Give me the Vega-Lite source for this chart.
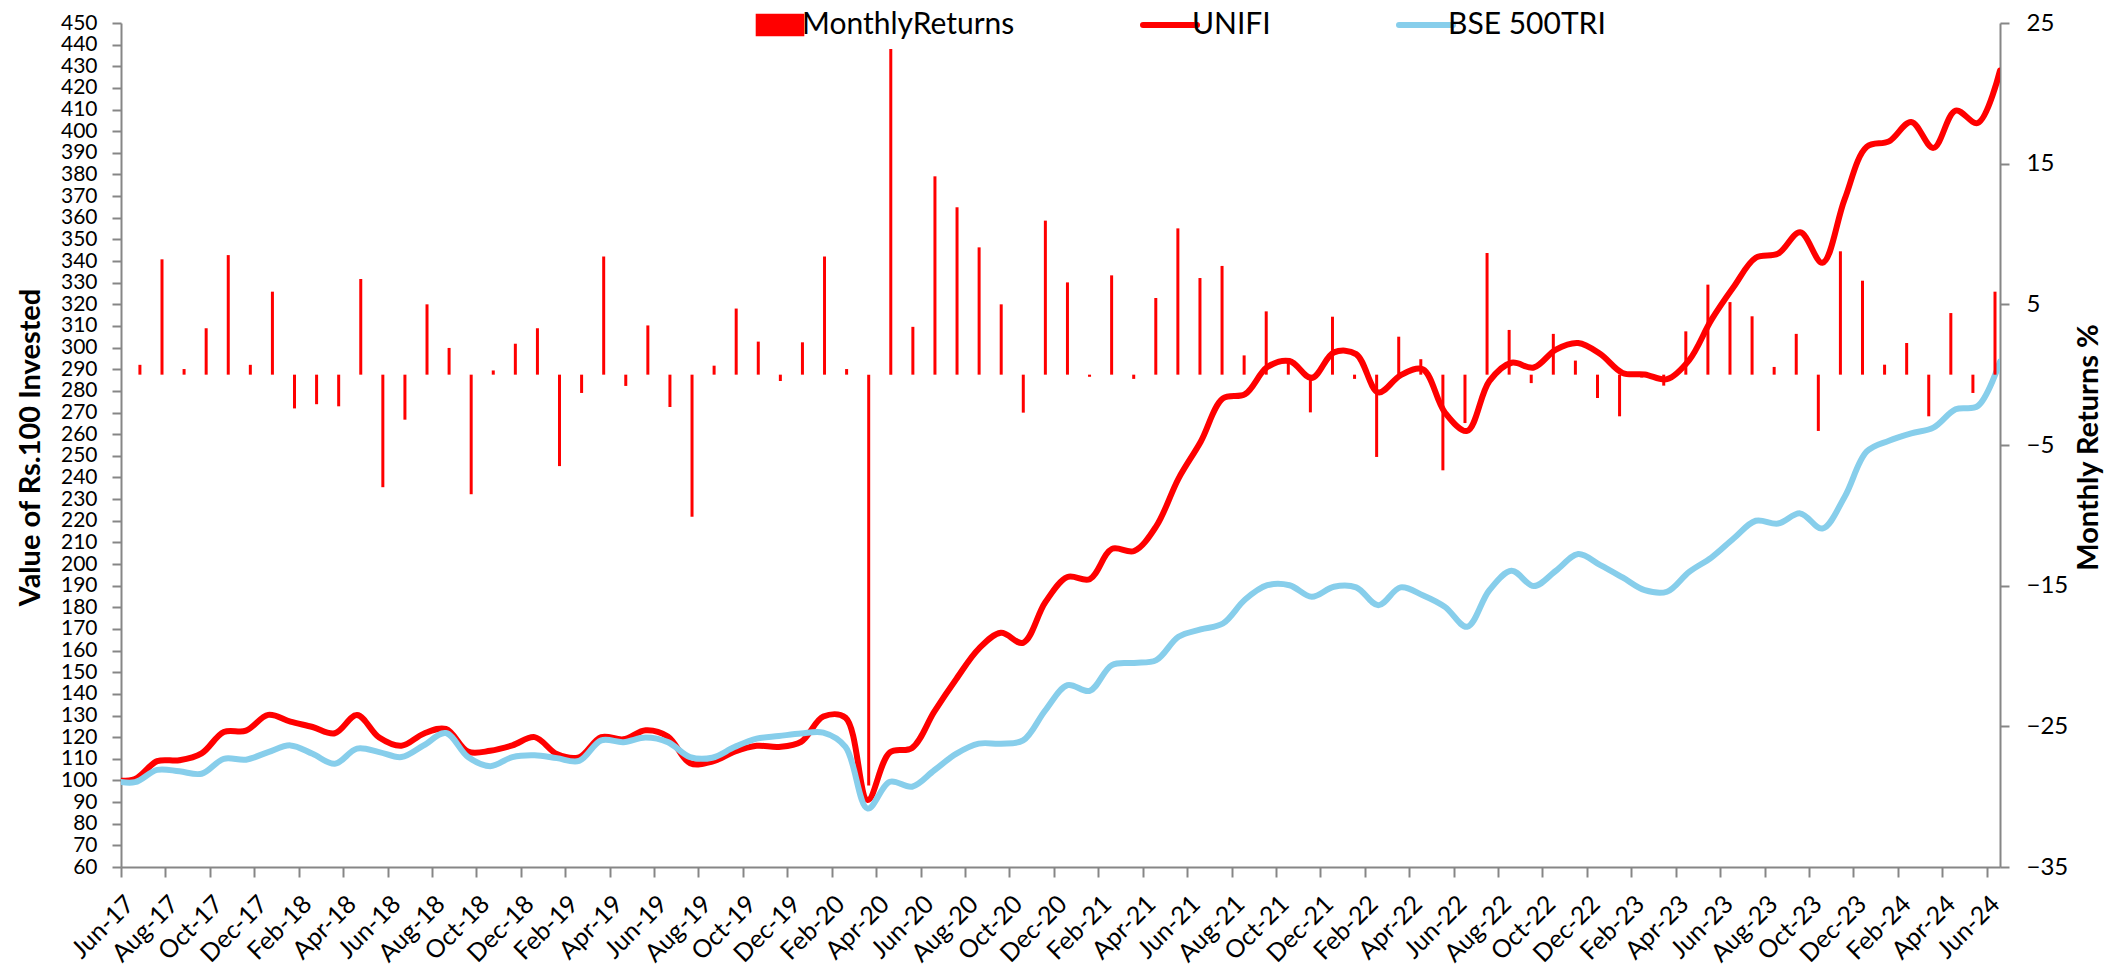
{
  "$schema": "https://vega.github.io/schema/vega-lite/v6.json",
  "width": 1879,
  "height": 844,
  "autosize": {"type": "none"},
  "padding": {"left": 121, "top": 23, "right": 110, "bottom": 106},
  "background": "white",
  "data": {"values": [
    {"month": "May-17", "i": -1, "ret": null, "UNIFI": 100, "BSE 500TRI": 100},
    {"month": "Jun-17", "i": 0, "ret": 0.7, "UNIFI": 100.7, "BSE 500TRI": 99.2},
    {"month": "Jul-17", "i": 1, "ret": 8.2, "UNIFI": 108.9, "BSE 500TRI": 104.9},
    {"month": "Aug-17", "i": 2, "ret": 0.4, "UNIFI": 109.3, "BSE 500TRI": 104.2},
    {"month": "Sep-17", "i": 3, "ret": 3.3, "UNIFI": 112.5, "BSE 500TRI": 103.1},
    {"month": "Oct-17", "i": 4, "ret": 8.5, "UNIFI": 122.4, "BSE 500TRI": 110},
    {"month": "Nov-17", "i": 5, "ret": 0.7, "UNIFI": 123, "BSE 500TRI": 109.6},
    {"month": "Dec-17", "i": 6, "ret": 5.9, "UNIFI": 130.3, "BSE 500TRI": 113.1},
    {"month": "Jan-18", "i": 7, "ret": -2.4, "UNIFI": 127.2, "BSE 500TRI": 116.2},
    {"month": "Feb-18", "i": 8, "ret": -2.1, "UNIFI": 124.7, "BSE 500TRI": 112.3},
    {"month": "Mar-18", "i": 9, "ret": -2.25, "UNIFI": 121.8, "BSE 500TRI": 107.7},
    {"month": "Apr-18", "i": 10, "ret": 6.8, "UNIFI": 130.2, "BSE 500TRI": 114.7},
    {"month": "May-18", "i": 11, "ret": -8.0, "UNIFI": 119.8, "BSE 500TRI": 113.1},
    {"month": "Jun-18", "i": 12, "ret": -3.2, "UNIFI": 116, "BSE 500TRI": 110.8},
    {"month": "Jul-18", "i": 13, "ret": 5.0, "UNIFI": 121.6, "BSE 500TRI": 116.2},
    {"month": "Aug-18", "i": 14, "ret": 1.9, "UNIFI": 123.8, "BSE 500TRI": 121.9},
    {"month": "Sep-18", "i": 15, "ret": -8.5, "UNIFI": 113.3, "BSE 500TRI": 110.8},
    {"month": "Oct-18", "i": 16, "ret": 0.3, "UNIFI": 113.7, "BSE 500TRI": 106.6},
    {"month": "Nov-18", "i": 17, "ret": 2.2, "UNIFI": 116.2, "BSE 500TRI": 110.8},
    {"month": "Dec-18", "i": 18, "ret": 3.3, "UNIFI": 120, "BSE 500TRI": 111.6},
    {"month": "Jan-19", "i": 19, "ret": -6.5, "UNIFI": 112.2, "BSE 500TRI": 110.3},
    {"month": "Feb-19", "i": 20, "ret": -1.3, "UNIFI": 110.7, "BSE 500TRI": 109},
    {"month": "Mar-19", "i": 21, "ret": 8.4, "UNIFI": 120, "BSE 500TRI": 118.5},
    {"month": "Apr-19", "i": 22, "ret": -0.8, "UNIFI": 119, "BSE 500TRI": 117.7},
    {"month": "May-19", "i": 23, "ret": 3.5, "UNIFI": 123.2, "BSE 500TRI": 119.8},
    {"month": "Jun-19", "i": 24, "ret": -2.3, "UNIFI": 120.3, "BSE 500TRI": 117.7},
    {"month": "Jul-19", "i": 25, "ret": -10.1, "UNIFI": 108, "BSE 500TRI": 110.8},
    {"month": "Aug-19", "i": 26, "ret": 0.64, "UNIFI": 108.7, "BSE 500TRI": 110.5},
    {"month": "Sep-19", "i": 27, "ret": 4.7, "UNIFI": 113.3, "BSE 500TRI": 115.4},
    {"month": "Oct-19", "i": 28, "ret": 2.35, "UNIFI": 116, "BSE 500TRI": 119.3},
    {"month": "Nov-19", "i": 29, "ret": -0.45, "UNIFI": 115.5, "BSE 500TRI": 120.5},
    {"month": "Dec-19", "i": 30, "ret": 2.3, "UNIFI": 117.8, "BSE 500TRI": 121.7},
    {"month": "Jan-20", "i": 31, "ret": 8.4, "UNIFI": 129.5, "BSE 500TRI": 122.1},
    {"month": "Feb-20", "i": 32, "ret": 0.4, "UNIFI": 129, "BSE 500TRI": 115.5},
    {"month": "Mar-20", "i": 33, "ret": -29.2, "UNIFI": 91, "BSE 500TRI": 87},
    {"month": "Apr-20", "i": 34, "ret": 23.15, "UNIFI": 113, "BSE 500TRI": 99.4},
    {"month": "May-20", "i": 35, "ret": 3.4, "UNIFI": 115, "BSE 500TRI": 97.1},
    {"month": "Jun-20", "i": 36, "ret": 14.1, "UNIFI": 131.8, "BSE 500TRI": 104.7},
    {"month": "Jul-20", "i": 37, "ret": 11.9, "UNIFI": 147, "BSE 500TRI": 112.4},
    {"month": "Aug-20", "i": 38, "ret": 9.05, "UNIFI": 160.8, "BSE 500TRI": 117},
    {"month": "Sep-20", "i": 39, "ret": 5.0, "UNIFI": 168.2, "BSE 500TRI": 117},
    {"month": "Oct-20", "i": 40, "ret": -2.7, "UNIFI": 163.6, "BSE 500TRI": 118.5},
    {"month": "Nov-20", "i": 41, "ret": 10.95, "UNIFI": 182.3, "BSE 500TRI": 132.4},
    {"month": "Dec-20", "i": 42, "ret": 6.56, "UNIFI": 194, "BSE 500TRI": 144},
    {"month": "Jan-21", "i": 43, "ret": -0.15, "UNIFI": 193, "BSE 500TRI": 141.4},
    {"month": "Feb-21", "i": 44, "ret": 7.06, "UNIFI": 207, "BSE 500TRI": 153.3},
    {"month": "Mar-21", "i": 45, "ret": -0.3, "UNIFI": 206, "BSE 500TRI": 154.3},
    {"month": "Apr-21", "i": 46, "ret": 5.45, "UNIFI": 217.5, "BSE 500TRI": 155.6},
    {"month": "May-21", "i": 47, "ret": 10.4, "UNIFI": 239.5, "BSE 500TRI": 166.4},
    {"month": "Jun-21", "i": 48, "ret": 6.87, "UNIFI": 256.5, "BSE 500TRI": 169.8},
    {"month": "Jul-21", "i": 49, "ret": 7.73, "UNIFI": 276.5, "BSE 500TRI": 172.5},
    {"month": "Aug-21", "i": 50, "ret": 1.37, "UNIFI": 278.5, "BSE 500TRI": 183.6},
    {"month": "Sep-21", "i": 51, "ret": 4.5, "UNIFI": 291, "BSE 500TRI": 190.2},
    {"month": "Oct-21", "i": 52, "ret": 0.83, "UNIFI": 293.8, "BSE 500TRI": 190.2},
    {"month": "Nov-21", "i": 53, "ret": -2.68, "UNIFI": 286, "BSE 500TRI": 184.9},
    {"month": "Dec-21", "i": 54, "ret": 4.12, "UNIFI": 297.8, "BSE 500TRI": 189.5},
    {"month": "Jan-22", "i": 55, "ret": -0.3, "UNIFI": 297, "BSE 500TRI": 189.2},
    {"month": "Feb-22", "i": 56, "ret": -5.85, "UNIFI": 279.3, "BSE 500TRI": 181},
    {"month": "Mar-22", "i": 57, "ret": 2.7, "UNIFI": 287.2, "BSE 500TRI": 189.2},
    {"month": "Apr-22", "i": 58, "ret": 1.1, "UNIFI": 290, "BSE 500TRI": 185.6},
    {"month": "May-22", "i": 59, "ret": -6.8, "UNIFI": 270, "BSE 500TRI": 180.2},
    {"month": "Jun-22", "i": 60, "ret": -3.44, "UNIFI": 261.5, "BSE 500TRI": 171},
    {"month": "Jul-22", "i": 61, "ret": 8.65, "UNIFI": 284.5, "BSE 500TRI": 187.9},
    {"month": "Aug-22", "i": 62, "ret": 3.18, "UNIFI": 293, "BSE 500TRI": 196.9},
    {"month": "Sep-22", "i": 63, "ret": -0.6, "UNIFI": 290.8, "BSE 500TRI": 189.8},
    {"month": "Oct-22", "i": 64, "ret": 2.9, "UNIFI": 299.1, "BSE 500TRI": 196.9},
    {"month": "Nov-22", "i": 65, "ret": 1.0, "UNIFI": 302.1, "BSE 500TRI": 204.6},
    {"month": "Dec-22", "i": 66, "ret": -1.66, "UNIFI": 297, "BSE 500TRI": 199.5},
    {"month": "Jan-23", "i": 67, "ret": -2.96, "UNIFI": 288.3, "BSE 500TRI": 193.8},
    {"month": "Feb-23", "i": 68, "ret": -0.2, "UNIFI": 287.6, "BSE 500TRI": 187.9},
    {"month": "Mar-23", "i": 69, "ret": -0.78, "UNIFI": 285.4, "BSE 500TRI": 187.2},
    {"month": "Apr-23", "i": 70, "ret": 3.08, "UNIFI": 294.2, "BSE 500TRI": 196.4},
    {"month": "May-23", "i": 71, "ret": 6.4, "UNIFI": 312.8, "BSE 500TRI": 203},
    {"month": "Jun-23", "i": 72, "ret": 5.16, "UNIFI": 328, "BSE 500TRI": 211.8},
    {"month": "Jul-23", "i": 73, "ret": 4.15, "UNIFI": 341.5, "BSE 500TRI": 220},
    {"month": "Aug-23", "i": 74, "ret": 0.55, "UNIFI": 343.4, "BSE 500TRI": 218.7},
    {"month": "Sep-23", "i": 75, "ret": 2.9, "UNIFI": 353.3, "BSE 500TRI": 223.4},
    {"month": "Oct-23", "i": 76, "ret": -4.0, "UNIFI": 339.2, "BSE 500TRI": 216.4},
    {"month": "Nov-23", "i": 77, "ret": 8.77, "UNIFI": 368.5, "BSE 500TRI": 231},
    {"month": "Dec-23", "i": 78, "ret": 6.68, "UNIFI": 392.8, "BSE 500TRI": 252},
    {"month": "Jan-24", "i": 79, "ret": 0.71, "UNIFI": 395.3, "BSE 500TRI": 257},
    {"month": "Feb-24", "i": 80, "ret": 2.25, "UNIFI": 404.3, "BSE 500TRI": 260.4},
    {"month": "Mar-24", "i": 81, "ret": -2.96, "UNIFI": 392.3, "BSE 500TRI": 263},
    {"month": "Apr-24", "i": 82, "ret": 4.38, "UNIFI": 409.5, "BSE 500TRI": 271.5},
    {"month": "May-24", "i": 83, "ret": -1.3, "UNIFI": 403.8, "BSE 500TRI": 273},
    {"month": "Jun-24", "i": 84, "ret": 5.9, "UNIFI": 428, "BSE 500TRI": 293.5}
  ]},
  "layer": [
    {
      "transform": [{"filter": "datum.i >= 0"}],
      "mark": {"type": "point", "opacity": 0},
      "encoding": {
        "x": {
          "field": "i", "type": "quantitative",
          "scale": {"domain": [0, 84.6], "nice": false, "zero": false},
          "axis": {
            "orient": "bottom", "title": null,
            "values": [0,2,4,6,8,10,12,14,16,18,20,22,24,26,28,30,32,34,36,38,40,42,44,46,48,50,52,54,56,58,60,62,64,66,68,70,72,74,76,78,80,82,84],
            "labelExpr": "['Jun','Jul','Aug','Sep','Oct','Nov','Dec','Jan','Feb','Mar','Apr','May'][datum.value % 12] + '-' + (17 + floor((datum.value + 5) / 12))",
            "labelAngle": -45, "labelAlign": "right", "labelBaseline": "top", "labelFontSize": 25,
            "labelPadding": 14, "tickSize": 10, "labelOverlap": false, "labelBound": false, "labelFlush": false
          }
        }
      }
    },
    {
      "transform": [{"fold": ["UNIFI", "BSE 500TRI"], "as": ["series", "value"]}],
      "mark": {"type": "line", "interpolate": "catmull-rom", "clip": true, "strokeWidth": 6, "strokeCap": "round", "strokeJoin": "round"},
      "encoding": {
        "x": {"field": "i", "type": "quantitative", "scale": {"domain": [-0.63, 84], "nice": false, "zero": false}, "axis": null},
        "y": {
          "field": "value", "type": "quantitative",
          "scale": {"domain": [60, 450], "nice": false, "zero": false},
          "axis": {
            "orient": "left", "title": "Value of Rs.100 Invested",
            "values": [60,70,80,90,100,110,120,130,140,150,160,170,180,190,200,210,220,230,240,250,260,270,280,290,300,310,320,330,340,350,360,370,380,390,400,410,420,430,440,450],
            "tickSize": 9, "labelPadding": 15, "labelOverlap": false, "labelFontSize": 21,
            "titleAngle": 270, "titleBaseline": "middle", "titleX": -91, "titleY": 424
          }
        },
        "color": {
          "field": "series", "type": "nominal",
          "scale": {"domain": ["MonthlyReturns", "UNIFI", "BSE 500TRI"], "range": ["#FF0000", "#FF0000", "#87CEEB"]},
          "legend": {
            "orient": "none", "legendX": 644, "legendY": -13, "direction": "horizontal", "columns": 3, "title": null,
            "labelFont": "Lato", "labelFontSize": 30, "labelColor": "#000000", "labelLimit": 0,
            "symbolSize": 2916, "labelOffset": 7, "columnPadding": 116,
            "encode": {"symbols": {"update": {
              "shape": {"signal": "datum.value === 'MonthlyReturns' ? 'M-0.9,-0.42H0.9V0.42H-0.9Z' : 'stroke'"},
              "fill": {"signal": "datum.value === 'MonthlyReturns' ? '#FF0000' : 'transparent'"},
              "stroke": {"signal": "datum.value === 'MonthlyReturns' ? 'transparent' : (datum.value === 'UNIFI' ? '#FF0000' : '#87CEEB')"},
              "strokeWidth": {"signal": "datum.value === 'MonthlyReturns' ? 0 : 6"},
              "strokeCap": {"value": "round"},
              "opacity": {"value": 1}
            }}}
          }
        }
      }
    },
    {
      "transform": [{"filter": "datum.ret != null"}],
      "mark": {"type": "bar", "size": 3},
      "encoding": {
        "x": {"field": "i", "type": "quantitative", "scale": {"domain": [-0.63, 84], "nice": false, "zero": false}, "axis": null},
        "y": {
          "field": "ret", "type": "quantitative",
          "scale": {"domain": [-35, 25], "nice": false},
          "axis": {
            "orient": "right", "title": "Monthly Returns %",
            "values": [-35, -25, -15, -5, 5, 15, 25],
            "tickSize": 9, "labelPadding": 17, "labelOverlap": false, "labelFontSize": 24,
            "titleAngle": 270, "titleBaseline": "middle", "titleX": 88, "titleY": 424
          }
        },
        "color": {
          "datum": "MonthlyReturns", "type": "nominal",
          "scale": {"domain": ["MonthlyReturns", "UNIFI", "BSE 500TRI"], "range": ["#FF0000", "#FF0000", "#87CEEB"]},
          "legend": {
            "orient": "none", "legendX": 644, "legendY": -13, "direction": "horizontal", "columns": 3, "title": null,
            "labelFont": "Lato", "labelFontSize": 30, "labelColor": "#000000", "labelLimit": 0,
            "symbolSize": 2916, "labelOffset": 7, "columnPadding": 116,
            "encode": {"symbols": {"update": {
              "shape": {"signal": "datum.value === 'MonthlyReturns' ? 'M-0.9,-0.42H0.9V0.42H-0.9Z' : 'stroke'"},
              "fill": {"signal": "datum.value === 'MonthlyReturns' ? '#FF0000' : 'transparent'"},
              "stroke": {"signal": "datum.value === 'MonthlyReturns' ? 'transparent' : (datum.value === 'UNIFI' ? '#FF0000' : '#87CEEB')"},
              "strokeWidth": {"signal": "datum.value === 'MonthlyReturns' ? 0 : 6"},
              "strokeCap": {"value": "round"},
              "opacity": {"value": 1}
            }}}
          }
        }
      }
    }
  ],
  "resolve": {"scale": {"x": "independent", "y": "independent"}},
  "config": {
    "view": {"stroke": null},
    "axis": {
      "grid": false,
      "domainColor": "#868686", "domainWidth": 2,
      "tickColor": "#868686", "tickWidth": 2,
      "labelColor": "#000000", "labelFont": "Lato", "labelFontSize": 23,
      "titleColor": "#000000", "titleFont": "Lato", "titleFontWeight": "bold", "titleFontSize": 29
    }
  }
}
